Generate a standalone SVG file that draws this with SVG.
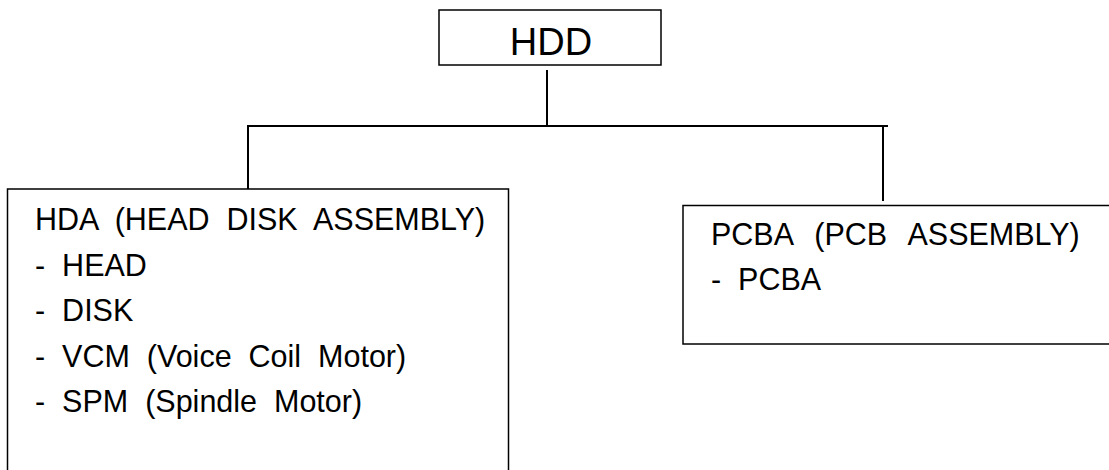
<svg xmlns="http://www.w3.org/2000/svg" width="1109" height="470" viewBox="0 0 1109 470">
<style>
.box{fill:#fff;stroke:#000;stroke-width:1.5}
.t{font-family:"Liberation Sans",Arial,sans-serif;font-size:30.5px;fill:#000}
.c{fill:none;stroke:#000;stroke-width:2}
</style>
<rect width="1109" height="470" fill="#fff"/>
<g id="connectors">
<line class="c" x1="547" y1="70" x2="547" y2="126"/>
<line class="c" x1="247" y1="126" x2="888" y2="126"/>
<line class="c" x1="248" y1="126" x2="248" y2="189"/>
<line class="c" x1="883" y1="126" x2="883" y2="201"/>
</g>
<g id="hdd">
<rect class="box" x="439" y="10" width="222" height="55"/>
<text class="t" x="551" y="55" text-anchor="middle" style="font-size:38px">HDD</text>
</g>
<g id="hda">
<rect class="box" x="7.5" y="189" width="501" height="300"/>
<text class="t" xml:space="preserve"><tspan x="35" y="230">HDA  (HEAD  DISK  ASSEMBLY)</tspan><tspan x="35" y="275.5">-  HEAD</tspan><tspan x="35" y="321">-  DISK</tspan><tspan x="35" y="366.5">-  VCM  (Voice  Coil  Motor)</tspan><tspan x="35" y="412">-  SPM  (Spindle  Motor)</tspan></text>
</g>
<g id="pcba">
<rect class="box" x="683" y="205.5" width="450" height="138.5"/>
<text class="t" xml:space="preserve"><tspan x="711" y="245" word-spacing="2.5">PCBA  (PCB  ASSEMBLY)</tspan><tspan x="711" y="290" word-spacing="0">-  PCBA</tspan></text>
</g>
</svg>
